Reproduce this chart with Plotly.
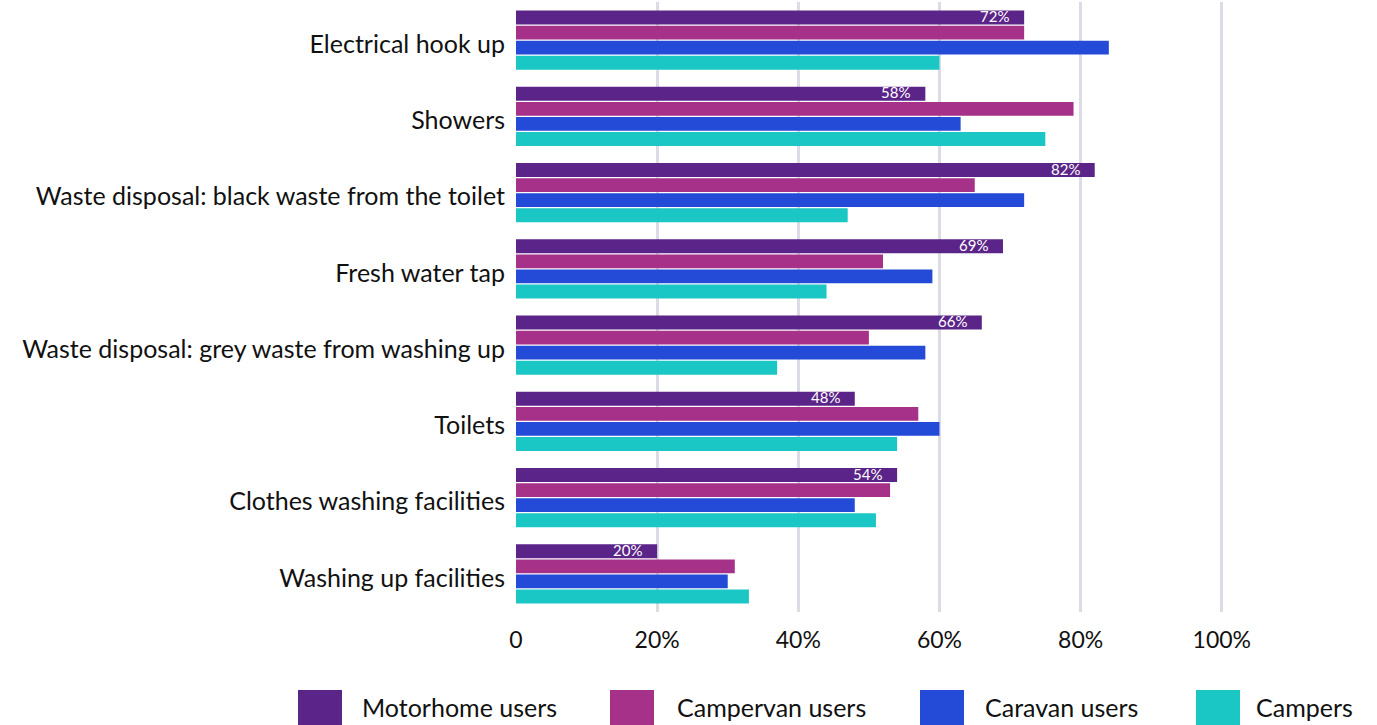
import plotly.graph_objects as go

categories = [
    "Electrical hook up",
    "Showers",
    "Waste disposal: black waste from the toilet",
    "Fresh water tap",
    "Waste disposal: grey waste from washing up",
    "Toilets",
    "Clothes washing facilities",
    "Washing up facilities",
]

motorhome = [72, 58, 82, 69, 66, 48, 54, 20]
campervan = [72, 79, 65, 52, 50, 57, 53, 31]
caravan = [84, 63, 72, 59, 58, 60, 48, 30]
campers = [60, 75, 47, 44, 37, 54, 51, 33]

series_names = ["Motorhome users", "Campervan users", "Caravan users", "Campers"]
series_values = [motorhome, campervan, caravan, campers]
series_colors = ["#5b2488", "#a63189", "#234bd7", "#1bc7c4"]

tick_vals = [0, 20, 40, 60, 80, 100]
tick_text = ["0", "20%", "40%", "60%", "80%", "100%"]

FONT = "Lato"
W, H = 1377, 725
X_MAX = 100.6
ML, MT, MB = 516, 2, 113
MR = round(W - ML - 706 * X_MAX / 100)
PW, PH = W - ML - MR, H - MT - MB

fig = go.Figure()
for name, vals, col in zip(series_names, series_values, series_colors):
    fig.add_trace(go.Bar(
        y=categories, x=vals, name=name, orientation="h",
        marker=dict(color=col, line=dict(width=0)),
        showlegend=False, hoverinfo="x+name",
    ))

# value labels inside the end of the motorhome bars
for cat, v in zip(categories, motorhome):
    fig.add_annotation(
        x=v, y=cat, text=f"{v}%", showarrow=False,
        xanchor="right", yanchor="middle", xshift=-13, yshift=24,
        font=dict(family=FONT, size=15, color="white"),
    )


def px_x(p):
    return (p - ML) / PW


def px_y(p):
    return (H - MB - p) / PH


# legend: large square swatches with labels
legend_items = [(298, 360), (610, 675), (920, 983), (1196, 1254)]
for (sx, tx), name, col in zip(legend_items, series_names, series_colors):
    fig.add_shape(
        type="rect", xref="paper", yref="paper",
        x0=px_x(sx), x1=px_x(sx + 44), y0=px_y(734), y1=px_y(690),
        fillcolor=col, line=dict(width=0), layer="above",
    )
    fig.add_annotation(
        xref="paper", yref="paper", x=px_x(tx), y=px_y(707),
        text=name, showarrow=False, xanchor="left", yanchor="middle",
        font=dict(family=FONT, size=25, color="#111111"),
    )

fig.update_layout(
    width=W, height=H,
    margin=dict(l=ML, r=MR, t=MT, b=MB, pad=0),
    paper_bgcolor="white", plot_bgcolor="white",
    barmode="group", bargap=0.21, bargroupgap=0.08,
    font=dict(family=FONT, color="#111111"),
    xaxis=dict(
        range=[0, X_MAX], tickvals=tick_vals, ticktext=tick_text,
        showgrid=True, gridcolor="#dddce6", gridwidth=2.5,
        zeroline=False, showline=False, ticks="",
        ticklabelstandoff=12,
        tickfont=dict(family=FONT, size=23, color="#111111"),
        fixedrange=True,
    ),
    yaxis=dict(
        autorange="reversed", showgrid=False, zeroline=False,
        showline=False, ticks="", ticklabelstandoff=10,
        ticklabelshift=-4,
        tickfont=dict(family=FONT, size=25, color="#111111"),
        fixedrange=True,
    ),
)

fig.write_html("out.html")
